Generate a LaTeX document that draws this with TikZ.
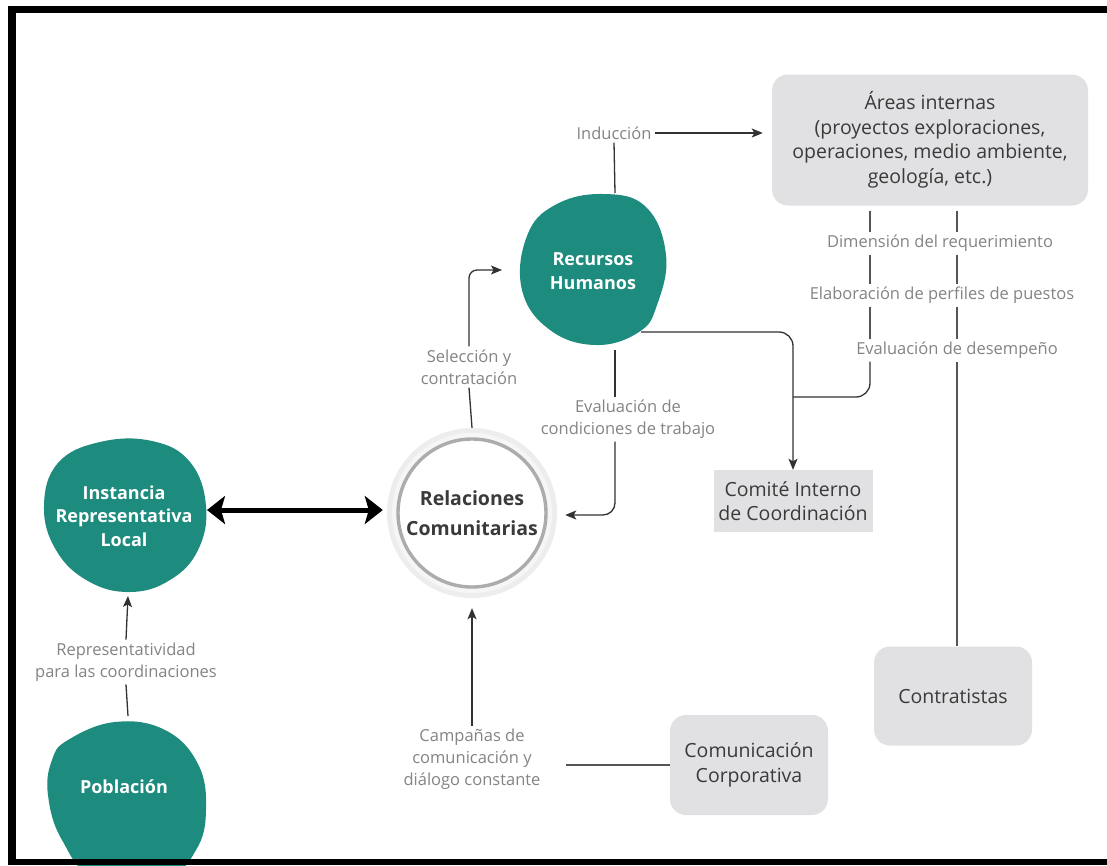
\documentclass[tikz,border=0pt]{standalone}
\usepackage{fontspec}
\setmainfont{Open Sans}
\usetikzlibrary{arrows.meta,calc}
\definecolor{teal}{RGB}{29,139,125}
\definecolor{boxgray}{RGB}{225,225,227}
\definecolor{lblgray}{RGB}{132,132,132}
\definecolor{boxtext}{RGB}{58,58,58}
\definecolor{linecol}{RGB}{50,50,50}
\definecolor{vline}{RGB}{85,85,85}
\begin{document}
\begin{tikzpicture}[x=1pt,y=-1pt,
  lbl/.style={text=lblgray,align=center,inner sep=3pt,font=\fontsize{16.5}{22}\selectfont},
  gbox/.style={fill=boxgray,text=boxtext,align=center,rounded corners=16pt,inner sep=0pt,font=\fontsize{19.5}{24.5}\selectfont},
  blobtext/.style={text=white,align=center,font=\bfseries\fontsize{18}{23.5}\selectfont},
  conn/.style={draw=linecol,line width=1.3pt},
  tip/.style={-{Stealth[length=11pt,width=9pt,inset=2.5pt]}},
  vl/.style={draw=vline,line width=1.3pt}]
\useasboundingbox (0,0) rectangle (1107,865);
\fill[white] (0,0) rectangle (1107,865);

% blobs
\fill[teal] plot[smooth cycle,tension=0.7] coordinates {(603,194) (646,207) (666,255) (657,305) (639,332) (596,345) (550,330) (522,290) (527,236) (555,205)};
\fill[teal] plot[smooth cycle,tension=0.7] coordinates {(58,463) (100,442) (152,441) (190,462) (206,506) (198,550) (170,580) (130,592) (88,581) (56,550) (44,506)};
\fill[teal] plot[smooth cycle,tension=0.7] coordinates {(68,740) (115,722) (165,730) (198,764) (206,810) (196,850) (165,878) (96,878) (62,840) (48,795) (52,760)};

\node[blobtext] (rh) at (593,271) {Recursos\\Humanos};
\node[blobtext] (irl) at (124,516) {Instancia\\Representativa\\Local};
\node[blobtext] (pob) at (124,787) {Población};
\coordinate (rhtop) at (615,193);
\coordinate (rhbot) at (615,350);
\coordinate (rhse) at (641,332);
\coordinate (rhw) at (502,270);
\coordinate (irle) at (207,510);
\coordinate (irlb) at (128,596);
\coordinate (pobt) at (128,716);

% Relaciones Comunitarias circle
\fill[gray!14] (472,513) circle (85);
\fill[gray!7] (472,513) circle (80);
\draw[draw={rgb,255:red,172;green,172;blue,172},line width=3.4pt,fill=white] (472,513) circle (74);
\node[circle,minimum size=170pt,inner sep=0pt,text=boxtext,align=center,font=\bfseries\fontsize{19.5}{30}\selectfont] (rc) at (472,513) {Relaciones\\Comunitarias};

% boxes
\node[gbox,minimum width=316pt,minimum height=131pt] (areas) at (930,140) {Áreas internas\\(proyectos exploraciones,\\operaciones, medio ambiente,\\geología, etc.)};
\node[gbox,rounded corners=0pt,minimum width=159pt,minimum height=62pt] (comite) at (793,501) {Comité Interno\\de Coordinación};
\node[gbox,minimum width=158pt,minimum height=100pt] (comcorp) at (749,765) {Comunicación\\Corporativa};
\node[gbox,minimum width=158pt,minimum height=99pt] (contr) at (953,696) {Contratistas};

% labels
\node[lbl] (ind) at (614,133) {Inducción};
\node[lbl] (dim) at (940,243) {Dimensión del requerimiento};
\node[lbl] (elab) at (942,295) {Elaboración de perfiles de puestos};
\node[lbl] (evdes) at (957,350) {Evaluación de desempeño};
\node[lbl] (sel) at (469,367) {Selección y\\contratación};
\node[lbl] (evcond) at (628,419) {Evaluación de\\condiciones de trabajo};
\node[lbl] (repr) at (126,662) {Representatividad\\para las coordinaciones};
\node[lbl] (camp) at (472,759) {Campañas de\\comunicación y\\diálogo constante};

% connectors
\draw[conn,tip,shorten >=9pt] (ind.east) -- (ind.east -| areas.west);
\draw[conn] (ind.south) -- (rhtop);
\draw[conn] (rc.north) -- (sel.south);
\draw[conn,tip,rounded corners=8pt] (sel.north) |- (rhw);
\draw[conn] (rhbot) -- (evcond.north -| rhbot);
\draw[conn,tip,rounded corners=12pt,shorten >=2pt] (evcond.south -| rhbot) |- ($(rc.east)+(6,2)$);
\coordinate (join) at (793,397);
\draw[conn,tip,rounded corners=14pt] (rhse) -| (comite.north);
\draw[vl,shorten <=5pt] (areas.south -| 870,0) -- (dim.north -| 870,0);
\draw[vl] (dim.south -| 870,0) -- (elab.north -| 870,0);
\draw[vl] (elab.south -| 870,0) -- (evdes.north -| 870,0);
\draw[conn,rounded corners=14pt] (evdes.south -| 870,0) |- (join);
\draw[vl,shorten <=5pt] (areas.south -| 957,0) -- (dim.north -| 957,0);
\draw[vl] (dim.south -| 957,0) -- (elab.north -| 957,0);
\draw[vl] (elab.south -| 957,0) -- (evdes.north -| 957,0);
\draw[vl] (evdes.south -| 957,0) -- (contr.north -| 957,0);
\draw[draw=black,line width=5pt,{Stealth[length=18pt,width=28pt,inset=4pt]}-{Stealth[length=18pt,width=28pt,inset=4pt]}] (irle) -- ($(rc.west)+(-4,-3)$);
\draw[conn,tip] (repr.north) -- (irlb);
\draw[conn] (repr.south) -- (pobt);
\draw[conn,tip,shorten >=10pt] (camp.north) -- (rc.south);
\draw[vl,shorten <=22pt] (camp.east |- comcorp.west) -- (comcorp.west);

% frame
\fill[black] (8,6) rectangle (1107,13);
\fill[black] (8,6) rectangle (16,865);
\fill[black] (8,859) rectangle (1107,865);
\end{tikzpicture}
\end{document}
